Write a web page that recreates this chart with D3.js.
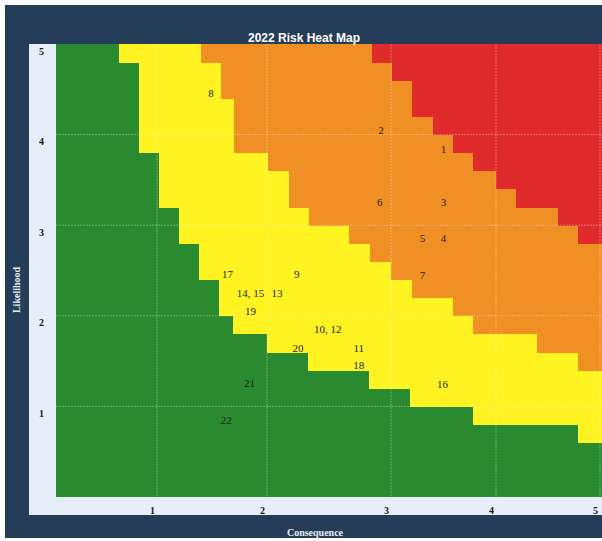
<!DOCTYPE html>
<html>
<head>
<meta charset="utf-8">
<script src="https://cdn.jsdelivr.net/npm/d3@7"></script>
<style>
  body { margin: 0; background: #fff; }
</style>
</head>
<body>
<div id="chart"></div>
<script>
// ticks
const xTicks = [1, 2, 3, 4, 5];
const yTicks = [1, 2, 3, 4, 5];

// zone edges: [likelihood top, likelihood bottom, consequence where the zone starts]
const yellowEdge = [
  [5.0, 4.8, 0.62], [4.8, 3.8, 0.82], [3.8, 3.2, 1.02], [3.2, 2.8, 1.20],
  [2.8, 2.4, 1.38], [2.4, 2.0, 1.56], [2.0, 1.8, 1.69], [1.8, 1.6, 2.00],
  [1.6, 1.4, 2.33], [1.4, 1.2, 2.82], [1.2, 1.0, 3.18], [1.0, 0.8, 3.78],
  [0.8, 0.6, 4.79]
];
const orangeEdge = [
  [5.0, 4.8, 1.40], [4.8, 4.4, 1.58], [4.4, 3.8, 1.70], [3.8, 3.6, 2.01],
  [3.6, 3.2, 2.18], [3.2, 3.0, 2.34], [3.0, 2.8, 2.66], [2.8, 2.6, 2.83],
  [2.6, 2.4, 3.00], [2.4, 2.2, 3.20], [2.2, 2.0, 3.59], [2.0, 1.8, 3.78],
  [1.8, 1.6, 4.39], [1.6, 1.4, 4.79]
];
const redEdge = [
  [5.0, 4.8, 2.85], [4.8, 4.6, 3.01], [4.6, 4.2, 3.20], [4.2, 4.0, 3.40],
  [4.0, 3.8, 3.59], [3.8, 3.6, 3.78], [3.6, 3.4, 4.00], [3.4, 3.2, 4.19],
  [3.2, 3.0, 4.60], [3.0, 2.8, 4.79]
];

// risks
const riskIds = ["8", "2", "1", "6", "3", "5", "4", "7", "17", "9", "14, 15", "13",
  "19", "10, 12", "20", "11", "18", "21", "16", "22"];
const riskConsequence = [1.49, 2.92, 3.50, 2.91, 3.50, 3.30, 3.50, 3.30, 1.64, 2.24, 1.85, 2.08,
  1.85, 2.49, 2.25, 2.74, 2.74, 1.84, 3.49, 1.63];
const riskLikelihood = [4.46, 4.05, 3.84, 3.25, 3.25, 2.86, 2.86, 2.45, 2.46, 2.46, 2.25, 2.25,
  2.05, 1.85, 1.64, 1.64, 1.45, 1.26, 1.25, 0.85];

const W = 602, H = 541;
const plot = { left: 56, top: 44, right: 604, bottom: 497 };
const colors = { green: "#2a8a2f", yellow: "#fff422", orange: "#ef8f24", red: "#df2b2b" };

const svg = d3.select("#chart").append("svg")
  .attr("width", W)
  .attr("height", H)
  .style("display", "block");

svg.append("rect").attr("width", W).attr("height", H).attr("fill", "#fff");
// navy background
svg.append("rect")
  .attr("x", 5).attr("y", 5).attr("width", 605).attr("height", 533)
  .attr("fill", "#253d59");
// light frame
svg.append("rect")
  .attr("x", 29).attr("y", 44).attr("width", 580).attr("height", 471)
  .attr("fill", "#e5eef9");

// scales (gridlines in the picture are not evenly spaced)
const x = d3.scaleLinear()
  .domain([0, 1, 2, 3, 4, 5])
  .range([plot.left, 157, 267, 391, 496, 600]);
const y = d3.scaleLinear()
  .domain([0, 5])
  .range([plot.bottom, plot.top]);

// green base
svg.append("rect")
  .attr("x", plot.left).attr("y", plot.top)
  .attr("width", plot.right - plot.left).attr("height", plot.bottom - plot.top)
  .attr("fill", colors.green);

function drawZone(edge, color) {
  svg.append("g").selectAll("rect")
    .data(edge)
    .join("rect")
    .attr("x", d => x(d[2]))
    .attr("y", d => y(d[0]))
    .attr("width", d => plot.right - x(d[2]))
    .attr("height", d => y(d[1]) - y(d[0]) + 0.5)
    .attr("fill", color)
    .attr("shape-rendering", "crispEdges");
}
drawZone(yellowEdge, colors.yellow);
drawZone(orangeEdge, colors.orange);
drawZone(redEdge, colors.red);

// gridlines
const grid = svg.append("g")
  .attr("stroke", "rgba(255,255,255,0.32)")
  .attr("stroke-width", 1)
  .attr("stroke-dasharray", "2,1");
grid.selectAll(".gx").data(xTicks).join("line")
  .attr("x1", d => x(d)).attr("x2", d => x(d))
  .attr("y1", plot.top).attr("y2", plot.bottom + 10);
grid.selectAll(".gy").data(yTicks.slice(0, 4)).join("line")
  .attr("x1", plot.left).attr("x2", plot.right)
  .attr("y1", d => y(d)).attr("y2", d => y(d));

// axes
const xAxis = svg.append("g")
  .attr("transform", `translate(0,${plot.bottom})`)
  .call(d3.axisBottom(x).tickValues(xTicks).tickFormat(d3.format("d")).tickSize(0).tickPadding(10));
xAxis.select(".domain").remove();
xAxis.selectAll("text").attr("dx", -5);

const yAxis = svg.append("g")
  .attr("transform", `translate(${plot.left},0)`)
  .call(d3.axisLeft(y).tickValues(yTicks).tickFormat(d3.format("d")).tickSize(0).tickPadding(12));
yAxis.select(".domain").remove();
yAxis.selectAll("text").attr("dy", "1.0em");

svg.selectAll(".tick text")
  .attr("fill", "#1a1a1a")
  .style("font-family", "'Liberation Serif', 'DejaVu Serif', serif")
  .style("font-size", "10px")
  .style("font-weight", "bold");

// risk labels
svg.append("g").selectAll("text")
  .data(riskIds)
  .join("text")
  .attr("x", (d, i) => x(riskConsequence[i]))
  .attr("y", (d, i) => y(riskLikelihood[i]))
  .attr("dy", "0.35em")
  .attr("text-anchor", "middle")
  .attr("fill", "#1e1e1e")
  .style("font-family", "'Liberation Serif', 'DejaVu Serif', serif")
  .style("font-size", "11px")
  .text(d => d);

// title
svg.append("text")
  .attr("x", 304).attr("y", 42)
  .attr("text-anchor", "middle")
  .attr("fill", "#fff")
  .style("font-family", "'Liberation Sans', Arial, sans-serif")
  .style("font-size", "12px")
  .style("font-weight", "bold")
  .text("2022 Risk Heat Map");

// axis titles
svg.append("text")
  .attr("x", 315).attr("y", 536)
  .attr("text-anchor", "middle")
  .attr("fill", "#e8eef6")
  .style("font-family", "'Liberation Serif', 'DejaVu Serif', serif")
  .style("font-size", "10px")
  .style("font-weight", "bold")
  .text("Consequence");

svg.append("text")
  .attr("transform", "translate(20,290) rotate(-90)")
  .attr("text-anchor", "middle")
  .attr("fill", "#e8eef6")
  .style("font-family", "'Liberation Serif', 'DejaVu Serif', serif")
  .style("font-size", "10px")
  .style("font-weight", "bold")
  .text("Likelihood");
</script>
</body>
</html>
